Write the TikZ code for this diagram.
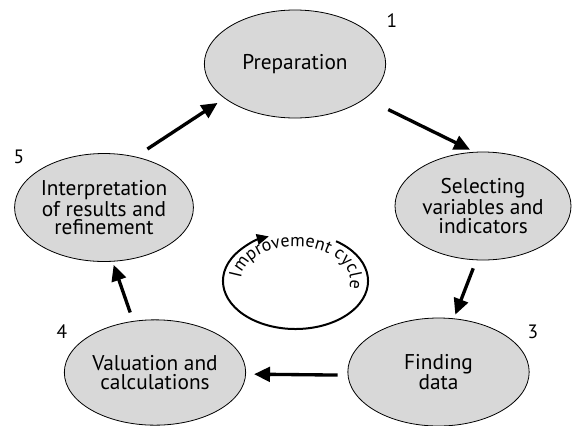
\documentclass[tikz,border=0pt]{standalone}
\usepackage{fontspec}
\setmainfont{PT Sans}
\definecolor{StageGrey}{RGB}{216,216,216}
\usetikzlibrary{arrows.meta,positioning,shapes.geometric,decorations.text}

\begin{document}
\begin{tikzpicture}[x=0.75pt,y=-0.75pt,
    stage/.style={ellipse, draw=black, line width=0.6pt, fill=StageGrey,
      minimum width=136pt, minimum height=81pt, inner sep=0pt, align=center,
      font=\fontsize{16}{13.8}\selectfont},
    stepnum/.style={font=\fontsize{14.5}{14.5}\selectfont},
    flow/.style={line width=2.5pt, -{Triangle[length=12pt,width=11pt]}}]
  \useasboundingbox (0,0) rectangle (573,425);

  % the five stages
  \node[stage] (prep) at (295,64) {Preparation};
  \node[stage, minimum width=132pt] (sel) at (483,206) {Selecting\\variables and\\indicators};
  \node[stage] (find) at (438.5,372) {Finding\\data};
  \node[stage, minimum height=79pt] (val) at (155,372.5) {Valuation and\\calculations};
  \node[stage, minimum width=134pt] (interp) at (104,207.5) {Interpretation\\of results and\\refinement};

  % step numbers
  \node[stepnum] (n1) at (392,21) {1};
  \node[stepnum] (n2) at (578,162) {2};
  \node[stepnum] (n3) at (533,332) {3};
  \node[stepnum] (n4) at (62,332) {4};
  \node[stepnum] (n5) at (19,157) {5};

  % arrows between stages
  \draw[flow, shorten <=19pt, shorten >=3.7pt] (prep.-26.8) -- (sel.99);
  \draw[flow, shorten <=6.5pt, shorten >=3pt] (sel.-97.3) -- (find.74.2);
  \draw[flow, shorten <=7.5pt, shorten >=6pt] (find.182) -- (val.-1.6);
  \draw[flow, shorten <=6.75pt, shorten >=2.5pt] (val.113.3) -- (interp.-81.7);
  \draw[flow, shorten <=10.4pt, shorten >=6.2pt] (interp.58.4) -- (prep.206.2);

  % improvement cycle in the middle
  \coordinate (cyc) at (295.5,281);
  \draw[line width=1.5pt, -{Triangle[length=9pt,width=8pt]}]
    ([shift={(56:54.4pt and 36pt)}]cyc)
    arc[start angle=56, end angle=-248.4, x radius=54.4pt, y radius=36pt];
  \path[decorate, decoration={text along path, text align=center,
      text={|\fontsize{13.5}{13.5}\selectfont|Improvement cycle}}]
    ([shift={(170:41pt and 26pt)}]cyc)
    arc[start angle=170, end angle=-6, x radius=41pt, y radius=26pt];
\end{tikzpicture}
\end{document}
